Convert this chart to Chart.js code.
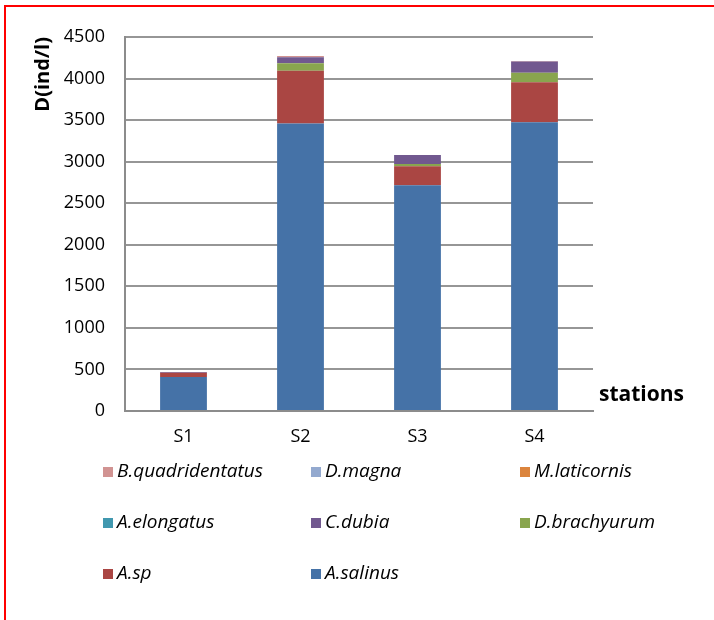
<!DOCTYPE html>
<html>
<head>
<meta charset="utf-8">
<script src="https://cdn.jsdelivr.net/npm/chart.js@4.4.1/dist/chart.umd.min.js"></script>
<style>
  html, body { margin: 0; padding: 0; background: #fff; overflow: hidden; }
  #wrap { position: relative; width: 714px; height: 620px; }
  #frame { position: absolute; left: 4px; top: 5px; width: 900px; height: 900px;
           border: 2px solid #ff0000; box-sizing: border-box; pointer-events: none; }
  canvas { position: absolute; left: 0; top: 0; }
</style>
</head>
<body>
<div id="wrap">
  <canvas id="c" width="714" height="620"></canvas>
  <div id="frame"></div>
</div>
<script>
// Zooplankton density per station (ind/l)
const stations = ['S1', 'S2', 'S3', 'S4'];
const yTicks = [0, 500, 1000, 1500, 2000, 2500, 3000, 3500, 4000, 4500];

// Stack order, bottom to top
const aSalinus        = [408, 3460, 2715, 3475];
const aSp             = [52, 635, 230, 480];
const dBrachyurum     = [0, 90, 28, 115];
const cDubia          = [8, 72, 108, 135];
const aElongatus      = [0, 0, 0, 0];
const mLaticornis     = [0, 0, 0, 0];
const dMagna          = [0, 0, 0, 0];
const bQuadridentatus = [0, 14, 0, 5];

const species = [
  { label: 'A.salinus',        data: aSalinus,        color: '#4572A7' },
  { label: 'A.sp',             data: aSp,             color: '#AA4643' },
  { label: 'D.brachyurum',     data: dBrachyurum,     color: '#89A54E' },
  { label: 'C.dubia',          data: cDubia,          color: '#71588F' },
  { label: 'A.elongatus',      data: aElongatus,      color: '#4198AF' },
  { label: 'M.laticornis',     data: mLaticornis,     color: '#DB843D' },
  { label: 'D.magna',          data: dMagna,          color: '#93A9CF' },
  { label: 'B.quadridentatus', data: bQuadridentatus, color: '#D19392' }
];

Chart.defaults.font.family = "'Open Sans', 'DejaVu Sans', sans-serif";
Chart.defaults.color = '#000';

// Legend in a 3-column grid, listed top of stack first
const gridLegend = {
  id: 'gridLegend',
  afterDraw(chart) {
    const ctx = chart.ctx;
    const items = chart.data.datasets.slice().reverse();
    const colX = [103, 311, 520];
    const rowY = [472, 523, 574];
    ctx.save();
    ctx.font = "italic 19px 'Open Sans', sans-serif";
    ctx.textBaseline = 'middle';
    ctx.textAlign = 'left';
    items.forEach((ds, i) => {
      const x = colX[i % 3], y = rowY[Math.floor(i / 3)];
      ctx.fillStyle = ds.backgroundColor;
      ctx.fillRect(x, y - 5, 10, 10);
      ctx.fillStyle = '#000';
      ctx.fillText(ds.label, x + 14, y);
    });
    ctx.restore();
  }
};

// X axis title placed to the right of the plot
const stationsTitle = {
  id: 'stationsTitle',
  afterDraw(chart) {
    const ctx = chart.ctx;
    const a = chart.chartArea;
    ctx.save();
    ctx.font = "bold 21px 'Open Sans', sans-serif";
    ctx.fillStyle = '#000';
    ctx.textBaseline = 'middle';
    ctx.textAlign = 'left';
    ctx.fillText('stations', a.right + 6, a.bottom - 16);
    ctx.restore();
  }
};

new Chart(document.getElementById('c'), {
  type: 'bar',
  data: {
    labels: stations,
    datasets: species.map(s => ({
      label: s.label,
      data: s.data,
      backgroundColor: s.color,
      borderWidth: 0,
      barPercentage: 0.4,
      categoryPercentage: 1.0
    }))
  },
  options: {
    responsive: false,
    animation: false,
    layout: { padding: { left: 0, right: 121, top: 37, bottom: 169 } },
    plugins: {
      legend: { display: false },
      tooltip: { enabled: false }
    },
    scales: {
      x: {
        stacked: true,
        grid: { display: false, drawTicks: false },
        border: { display: true, color: '#8c8c8c', width: 2 },
        ticks: { font: { size: 18 }, padding: 15 },
        afterFit(scale) { scale.height = 40; }
      },
      y: {
        stacked: true,
        min: 0,
        max: 4500,
        afterBuildTicks(scale) { scale.ticks = yTicks.map(v => ({ value: v })); },
        grid: { color: '#969696', lineWidth: 2, drawTicks: false },
        border: { display: true, color: '#8c8c8c', width: 2 },
        ticks: { font: { size: 18 }, padding: 20, callback: v => String(v) },
        title: {
          display: true,
          text: 'D(ind/l)',
          align: 'end',
          font: { size: 20, weight: 'bold' },
          padding: { top: 31, bottom: 0 }
        },
        afterFit(scale) { scale.width = 125; }
      }
    }
  },
  plugins: [gridLegend, stationsTitle]
});
</script>
</body>
</html>
